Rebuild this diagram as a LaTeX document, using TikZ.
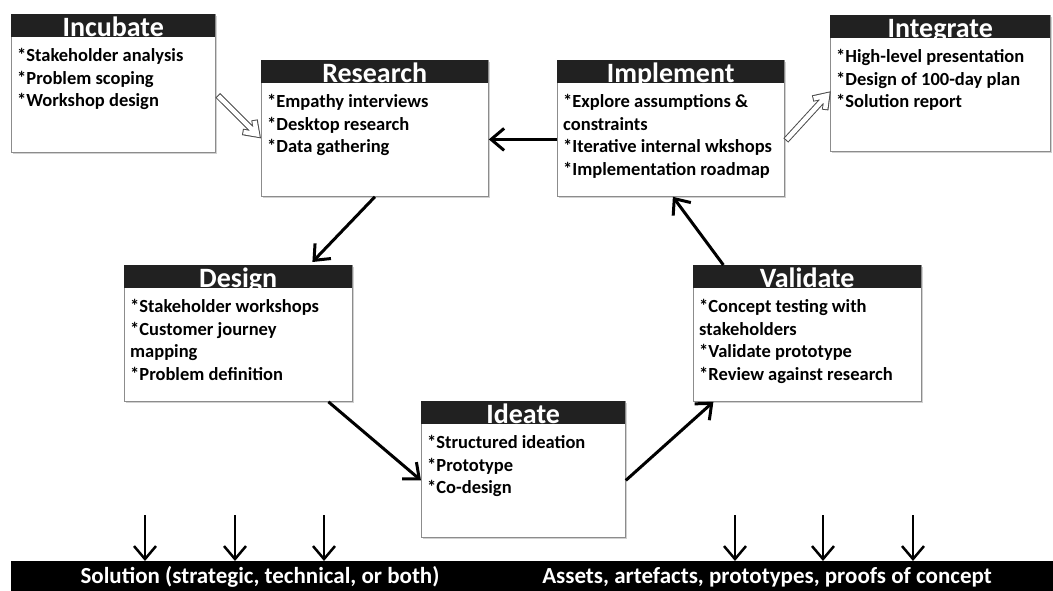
\documentclass[tikz,border=0pt]{standalone}
\usepackage{fontspec}
\setmainfont{Carlito}
\usetikzlibrary{arrows.meta,shadows,calc}

% one phase: frame, dark title strip, bullet list
\newcommand\phasebox[7]{%
  \node[stage, minimum width=#4pt, minimum height=#5pt] (#1) at (#2,#3) {};
  \node[head, minimum width=#4pt] (#1-h) at (#1.north west) {};
  \node[title] (#1-title) at ([yshift=0.5pt]#1-h.south) {#6};
  \node[items] (#1-t) at ([xshift=6pt,yshift=-11pt]#1-h.south west) {#7};
}

% outlined (hollow) arrow between two points: a wide dark stroke
% of shaft and chevron, then a narrower white stroke on top
\newcommand\hollowlink[2]{%
  \draw[hollow outer] let \p1=(#1), \p2=(#2),
      \n1={atan2(\y2-\y1,\x2-\x1)}, \n2={veclen(\x2-\x1,\y2-\y1)} in
    [shift={(\p1)}, rotate=\n1]
    (0,0) -- (\n2-1,0) (\n2-12,8.5) -- (\n2,0) -- (\n2-12,-8.5);
  \draw[hollow inner] let \p1=(#1), \p2=(#2),
      \n1={atan2(\y2-\y1,\x2-\x1)}, \n2={veclen(\x2-\x1,\y2-\y1)} in
    [shift={(\p1)}, rotate=\n1]
    (1,0) -- (\n2-1,0) (\n2-11.25,7.85) -- (\n2,0) -- (\n2-11.25,-7.85);
}

\begin{document}
\begin{tikzpicture}[x=1pt,y=-1pt,
  stage/.style={draw=black!45, line width=0.8pt, fill=white, inner sep=0pt,
    anchor=north west,
    drop shadow={shadow xshift=1.5pt, shadow yshift=-1.5pt, opacity=0.3, fill=black!60}},
  head/.style={fill=black!87, inner sep=0pt, anchor=north west,
    minimum height=23pt},
  title/.style={text=white, inner sep=0pt, anchor=base,
    font=\fontsize{28}{28}\selectfont\bfseries},
  items/.style={anchor=north west, align=left, inner sep=0pt,
    font=\fontsize{18.5}{22.5}\selectfont\bfseries},
  flow/.style={line width=3pt, -{Straight Barb[length=13pt,width=22pt]}},
  hollow outer/.style={draw=black!70, line width=6.5pt, miter limit=20},
  hollow inner/.style={draw=white, line width=4.5pt, miter limit=20},
  output/.style={line width=2.5pt, -{Straight Barb[length=13pt,width=22pt]}},
  bar/.style={fill=black, inner sep=0pt, anchor=north west,
    minimum height=30pt},
  bartext/.style={text=white, inner sep=0pt,
    font=\fontsize{23}{23}\selectfont\bfseries}
]
\useasboundingbox (0,0) rectangle (1053,591);

\phasebox{incubate}{11}{14}{204}{138}{Incubate}
  {*Stakeholder analysis\\*Problem scoping\\*Workshop design}
\phasebox{research}{261}{60}{227}{136}{Research}
  {*Empathy interviews\\*Desktop research\\*Data gathering}
\phasebox{implement}{557}{60}{227}{136}{Implement}
  {*Explore assumptions \&\\constraints\\*Iterative internal wkshops\\*Implementation roadmap}
\phasebox{integrate}{830}{15}{220}{136}{Integrate}
  {*High-level presentation\\*Design of 100-day plan\\*Solution report}
\phasebox{design}{124}{265}{228}{136}{Design}
  {*Stakeholder workshops\\*Customer journey\\mapping\\*Problem definition}
\phasebox{ideate}{421}{401}{204}{136}{Ideate}
  {*Structured ideation\\*Prototype\\*Co-design}
\phasebox{validate}{693}{265}{228}{136}{Validate}
  {*Concept testing with\\stakeholders\\*Validate prototype\\*Review against research}

% the cycle
\draw[flow] ([yshift=-11pt]implement.west) -- ([yshift=-11pt]research.east);
\draw[flow] (research.south) -- ([xshift=74pt,yshift=3pt]design.north);
\draw[flow] ([xshift=90pt]design.south) -- ([yshift=-11pt]ideate.west);
\draw[flow] ([yshift=-11pt]ideate.east) -- ([xshift=-94pt]validate.south);
\draw[flow] ([xshift=-84pt]validate.north) -- ([xshift=2pt]implement.south);

% entry and exit
\hollowlink{[xshift=2pt,yshift=-12pt]incubate.east}{[xshift=-4pt,yshift=-6pt]research.west}
\hollowlink{[xshift=1pt,yshift=-12pt]implement.east}{[xshift=-3pt,yshift=-12pt]integrate.west}

% outcomes
\node[bar, minimum width=1042pt] (outcomes) at (11,561) {};
\node[bartext] (solution) at (260,577) {Solution (strategic, technical, or both)};
\node[bartext] (assets) at (767,577) {Assets, artefacts, prototypes, proofs of concept};

\foreach \i/\x in {1/145,2/235,3/324,4/735,5/823,6/913}{
  \coordinate (o\i) at (\x,515);
  \draw[output] (o\i) -- (o\i |- outcomes.north);
}
\end{tikzpicture}
\end{document}
